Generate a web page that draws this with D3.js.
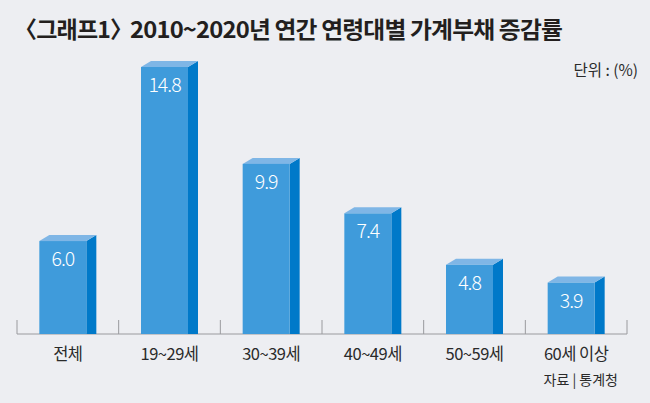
<!DOCTYPE html>
<html>
<head>
<meta charset="utf-8">
<script src="https://cdn.jsdelivr.net/npm/d3@7"></script>
<style>
  body { margin: 0; background: #edeef2; }
  svg { display: block; }
</style>
</head>
<body>
<div id="chart"></div>
<script>
// 데이터
const categories = ["전체", "19~29세", "30~39세", "40~49세", "50~59세", "60세 이상"];
const values = [6.0, 14.8, 9.9, 7.4, 4.8, 3.9];
const valueLabels = ["6.0", "14.8", "9.9", "7.4", "4.8", "3.9"];

const W = 650, H = 403;
const baseY = 334;
const frontW = 47, sideW = 10, depthY = 6;

let svg = d3.select("#chart").append("svg")
  .attr("width", W)
  .attr("height", H);

svg.append("rect")
  .attr("width", W)
  .attr("height", H)
  .attr("fill", "#edeef2");

// 제목 (괄호 부분과 나머지를 나눠서 배치)
let titleStyle = sel => sel
  .style("font-family", "'Noto Sans CJK KR', sans-serif")
  .style("font-size", "23px")
  .style("font-weight", "bold")
  .style("letter-spacing", "-0.8px")
  .attr("fill", "#231f1e");

svg.append("text")
  .attr("x", 14)
  .attr("y", 38)
  .text("〈그래프1〉")
  .call(titleStyle);

svg.append("text")
  .attr("x", 130)
  .attr("y", 38)
  .attr("textLength", 432)
  .attr("lengthAdjust", "spacingAndGlyphs")
  .text("2010~2020년 연간 연령대별 가계부채 증감률")
  .call(titleStyle);

svg.append("text")
  .attr("x", 638)
  .attr("y", 76)
  .attr("text-anchor", "end")
  .text("단위 : (%)")
  .style("font-family", "'Noto Sans CJK KR', sans-serif")
  .style("font-size", "15.5px")
  .attr("fill", "#2a2a2a");

let xScale = d3.scaleBand()
  .domain(categories)
  .range([17, 627])
  .padding(0);

let yScale = d3.scaleLinear()
  .domain([1.3, 14.8])
  .range([baseY, 67]);

// 축
svg.append("line")
  .attr("x1", 17).attr("x2", 627)
  .attr("y1", baseY).attr("y2", baseY)
  .attr("stroke", "#9a9a9e")
  .attr("stroke-width", 1);

let tickXs = categories.map(d => xScale(d)).concat([627]);
svg.selectAll(".tick")
  .data(tickXs)
  .enter()
  .append("line")
  .attr("x1", d => d).attr("x2", d => d)
  .attr("y1", baseY).attr("y2", baseY - 14)
  .attr("stroke", "#9a9a9e")
  .attr("stroke-width", 1);

let data = categories.map((c, i) => ({ cat: c, v: values[i], label: valueLabels[i] }));

let bars = svg.selectAll(".bar")
  .data(data)
  .enter()
  .append("g")
  .attr("class", "bar");

function leftX(d) {
  return xScale(d.cat) + xScale.bandwidth() / 2 - (frontW + sideW) / 2;
}

// 옆면
bars.append("path")
  .attr("fill", "#0079c9")
  .attr("d", d => {
    let x0 = leftX(d) + frontW, t = yScale(d.v);
    return `M${x0},${t} L${x0 + sideW},${t - depthY} L${x0 + sideW},${baseY} L${x0},${baseY} Z`;
  });

// 윗면
bars.append("path")
  .attr("fill", "#7fb6e6")
  .attr("d", d => {
    let x0 = leftX(d), t = yScale(d.v);
    return `M${x0},${t} L${x0 + sideW},${t - depthY} L${x0 + frontW + sideW},${t - depthY} L${x0 + frontW},${t} Z`;
  });

// 앞면
bars.append("rect")
  .attr("fill", "#3f9bdb")
  .attr("x", d => leftX(d))
  .attr("y", d => yScale(d.v))
  .attr("width", frontW)
  .attr("height", d => baseY - yScale(d.v));

bars.append("text")
  .attr("x", d => leftX(d) + frontW / 2)
  .attr("y", d => yScale(d.v) + 25)
  .attr("text-anchor", "middle")
  .text(d => d.label)
  .style("font-family", "'Noto Sans CJK KR', sans-serif")
  .style("font-size", "19.5px")
  .style("font-weight", "300")
  .style("letter-spacing", "-1px")
  .attr("fill", "#ffffff");

// 카테고리
svg.selectAll(".cat")
  .data(categories)
  .enter()
  .append("text")
  .attr("x", d => xScale(d) + xScale.bandwidth() / 2)
  .attr("y", 360)
  .attr("text-anchor", "middle")
  .text(d => d)
  .style("font-family", "'Noto Sans CJK KR', sans-serif")
  .style("font-size", "16.5px")
  .style("letter-spacing", "-0.5px")
  .attr("fill", "#2a2a2a");

svg.append("text")
  .attr("x", 618)
  .attr("y", 385)
  .attr("text-anchor", "end")
  .text("자료 | 통계청")
  .style("font-family", "'Noto Sans CJK KR', sans-serif")
  .style("font-size", "14px")
  .attr("fill", "#2a2a2a");
</script>
</body>
</html>
